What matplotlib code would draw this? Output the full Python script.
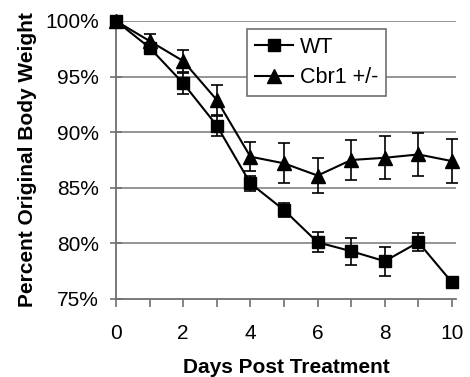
import matplotlib
matplotlib.use("Agg")
import matplotlib.pyplot as plt
from matplotlib.ticker import FuncFormatter

plt.rcParams['font.family'] = ['Liberation Sans', 'DejaVu Sans']

days = [0, 1, 2, 3, 4, 5, 6, 7, 8, 9, 10]
wt = [100, 97.6, 94.4, 90.6, 85.4, 83.0, 80.1, 79.3, 78.4, 80.1, 76.5]
wt_err = [0, 0.3, 0.95, 0.9, 0.7, 0.6, 0.9, 1.2, 1.3, 0.8, 0.0]
cbr = [100, 98.2, 96.4, 92.9, 87.8, 87.2, 86.1, 87.5, 87.7, 88.0, 87.4]
cbr_err = [0, 0.6, 0.95, 1.35, 1.3, 1.8, 1.6, 1.8, 1.95, 1.9, 1.95]
yticks = [75, 80, 85, 90, 95, 100]
xticklabels = ['0', '', '2', '', '4', '', '6', '', '8', '', '10']

fig = plt.figure(figsize=(4.7, 3.77), dpi=100)
ax = fig.add_axes([116/470, 1-299/377, (456-116)/470, (299-21)/377])

grid_c = '#8c8c8c'
for y in yticks[1:]:
    ax.axhline(y, color=grid_c, lw=1.3, zorder=0)

ax.errorbar(days, wt, yerr=wt_err, color='black', lw=1.5, marker='s', ms=9,
            capsize=4.5, elinewidth=1.2, capthick=1.2, label='WT', clip_on=False, zorder=3)
ax.errorbar(days, cbr, yerr=cbr_err, color='black', lw=1.5, marker='^', ms=10,
            capsize=4.5, elinewidth=1.2, capthick=1.2, label='Cbr1 +/-', clip_on=False, zorder=3)

ax.set_xlim(0, 10.12)
ax.set_ylim(75, 100)
ax.set_yticks(yticks)
ax.yaxis.set_major_formatter(FuncFormatter(lambda v, p: f'{int(v)}%'))
ax.set_xticks(days)
ax.set_xticklabels(xticklabels)

for s in ['top', 'right']:
    ax.spines[s].set_visible(False)
for s in ['left', 'bottom']:
    ax.spines[s].set_color('#707070')
    ax.spines[s].set_linewidth(1.3)

ax.tick_params(axis='y', direction='inout', length=9, width=1.2, color='#707070',
               labelsize=15, pad=8)
ax.tick_params(axis='x', direction='out', length=6, width=1.2, color='#707070',
               labelsize=15, pad=12)

ax.set_xlabel('Days Post Treatment', fontsize=15, fontweight='bold', labelpad=11)
ax.set_ylabel('Percent Original Body Weight', fontsize=15, fontweight='bold', labelpad=6)

handles, labels = ax.get_legend_handles_labels()
handles = [h[0] for h in handles]
leg = ax.legend(handles, labels, loc='upper left', bbox_to_anchor=((247-116)/340, 1-(29-21)/278),
                fontsize=15.5, frameon=True, fancybox=False, edgecolor='#707070',
                framealpha=1, handlelength=1.8, borderpad=0.35, labelspacing=0.45,
                handletextpad=0.3, borderaxespad=0)
leg.get_frame().set_linewidth(1.2)

fig.savefig('out.png', dpi=100)
